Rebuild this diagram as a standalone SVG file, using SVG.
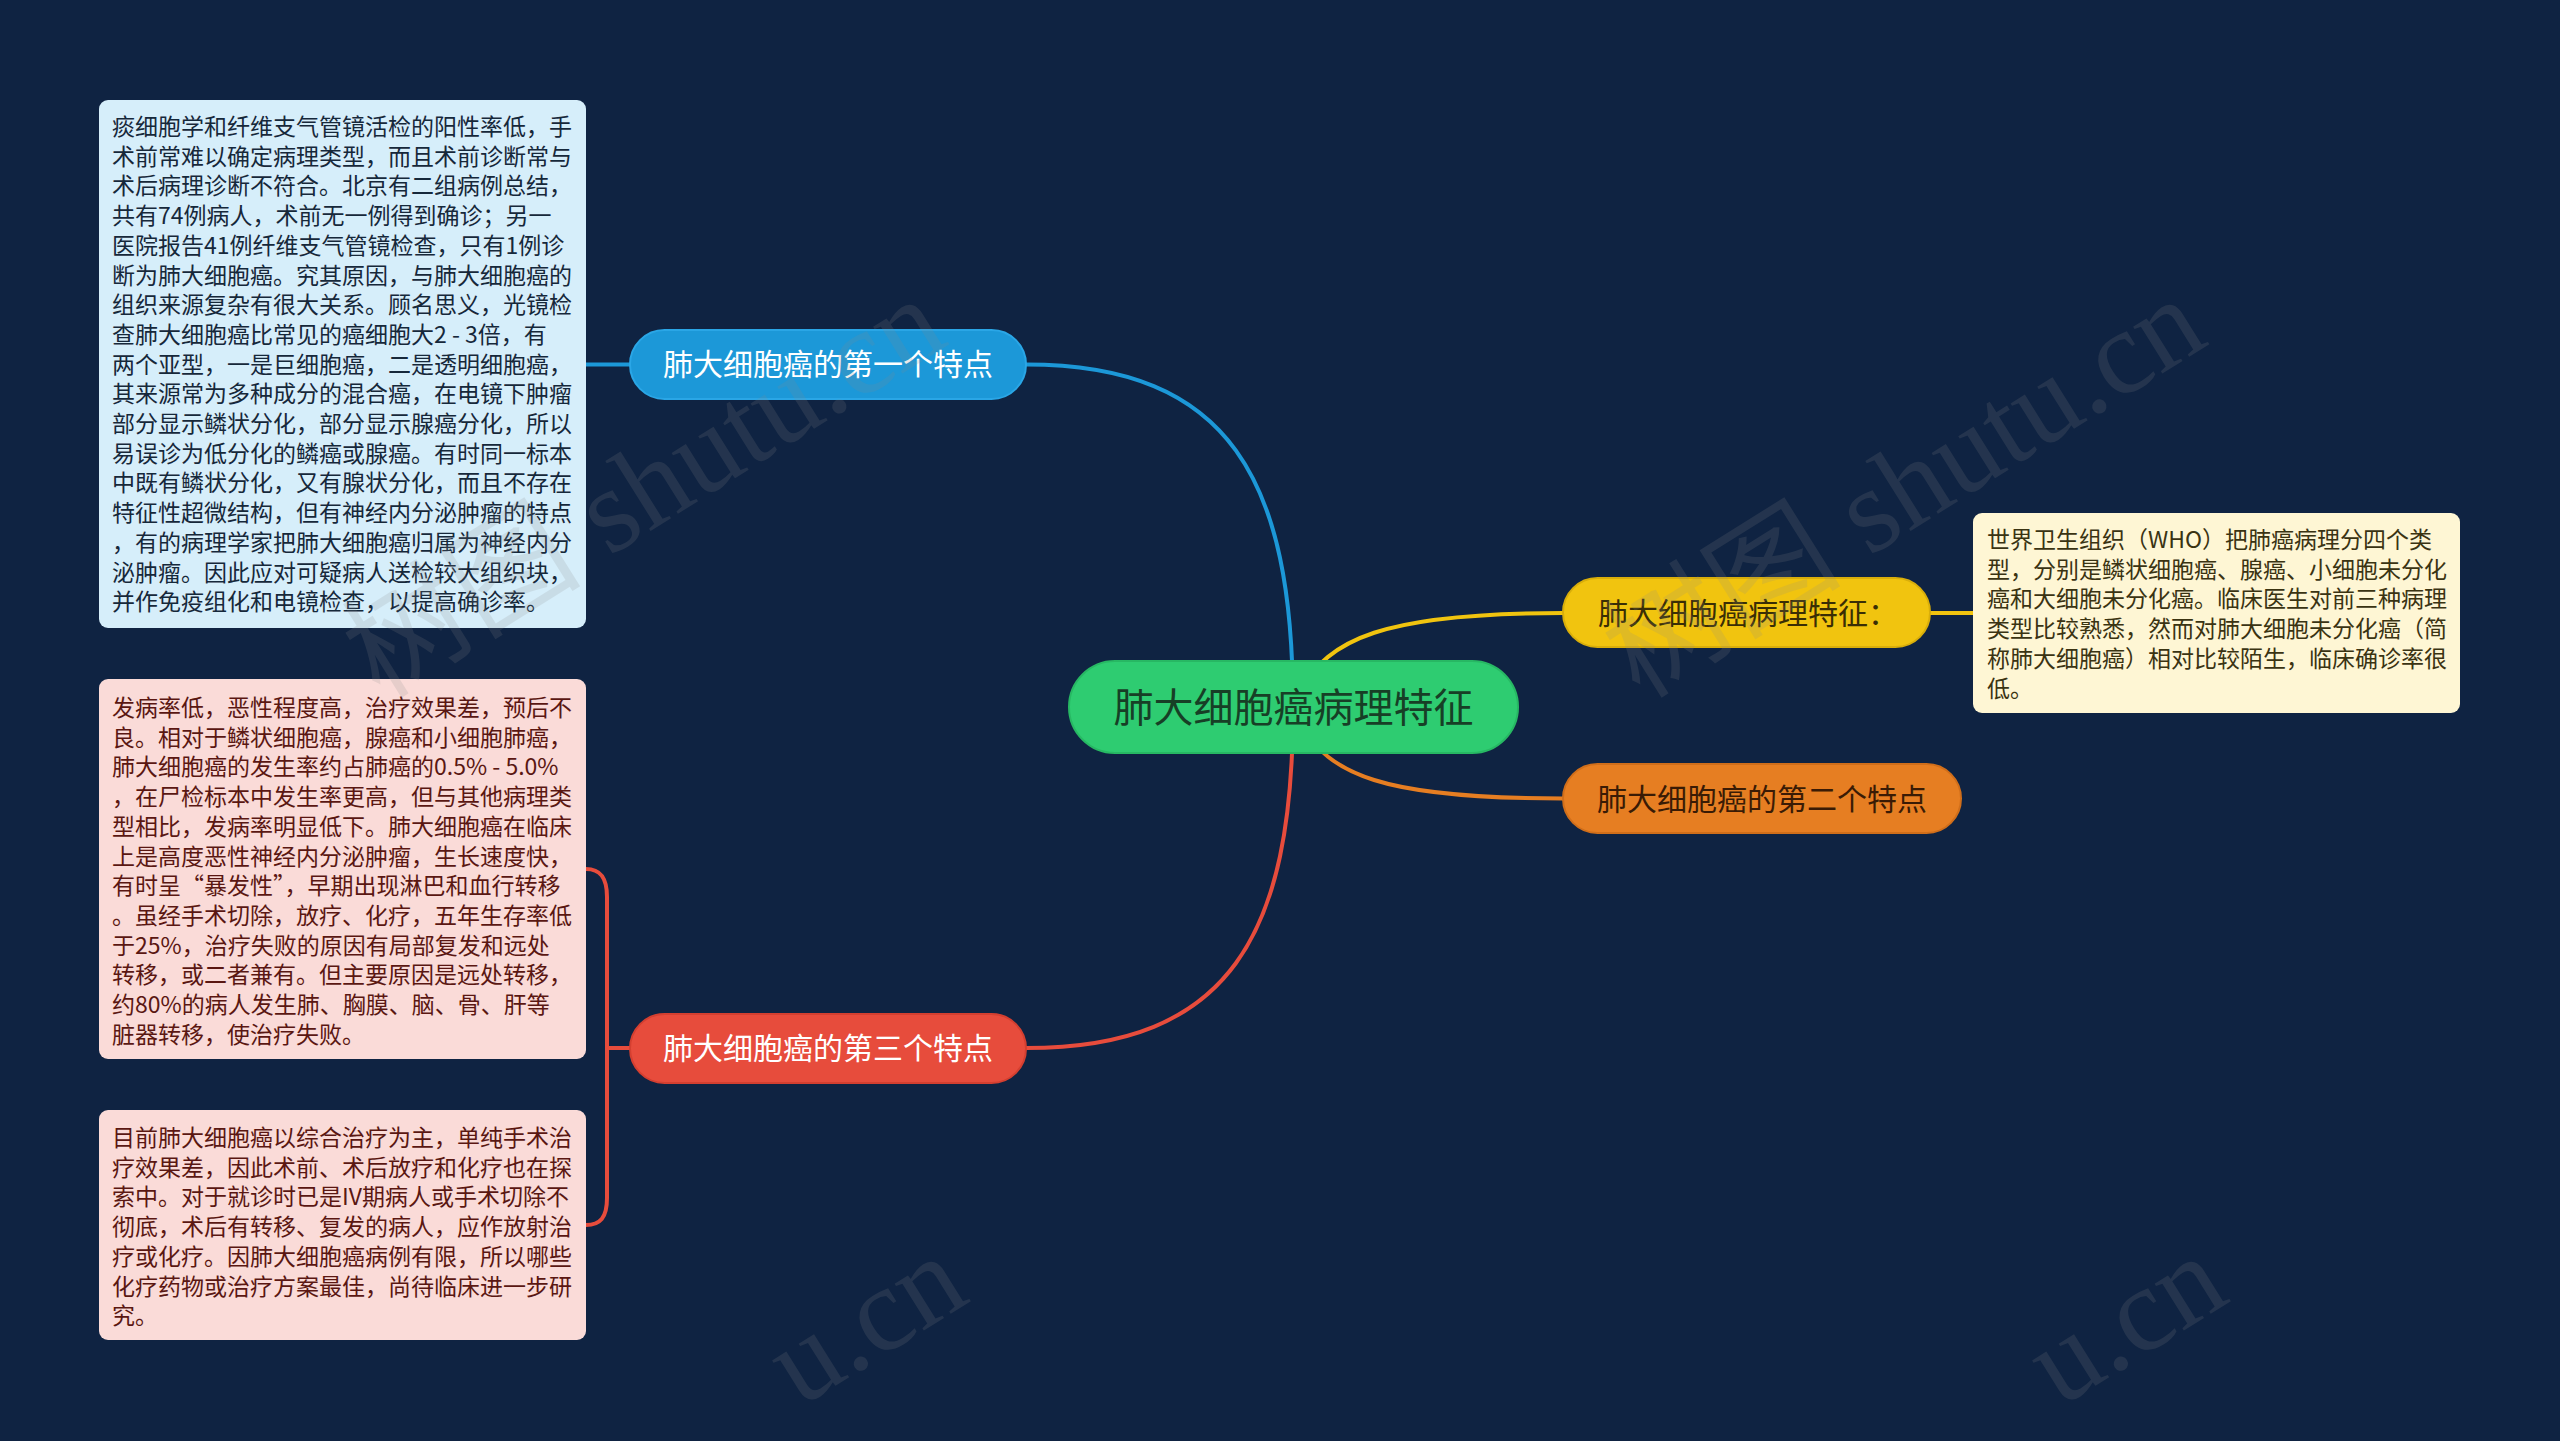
<svg xmlns="http://www.w3.org/2000/svg" width="2560" height="1441" viewBox="0 0 2560 1441">
<style>
.bg{fill:#0F2342}
.cjk{font-family:"Noto Sans CJK SC","Noto Sans",sans-serif}
.box{font-size:23px}
.nt{font-size:30px}
.ct{font-size:40px}
.wm{font-family:"Liberation Serif","Noto Sans CJK SC",serif;font-size:120px;fill:#8a8a8a;opacity:0.17}
.ln{fill:none;stroke-width:4;stroke-linecap:round}
</style>
<rect class="bg" x="0" y="0" width="2560" height="1441"/>
<g id="connectors">
<path class="ln" stroke="#1C98D8" d="M1026,364.5 C1230,364.5 1293,480 1293,707"/>
<path class="ln" stroke="#1C98D8" stroke-width="3" d="M586,364.5 L630,364.5"/>
<path class="ln" stroke="#F1C40F" d="M1300,690 C1330,640 1380,613 1563,613"/>
<path class="ln" stroke="#F1C40F" stroke-width="3" d="M1930,613 L1973,613"/>
<path class="ln" stroke="#E67E22" d="M1300,724 C1330,774 1380,798.5 1563,798.5"/>
<path class="ln" stroke="#E74C3C" d="M1026,1048 C1230,1048 1293,935 1293,707"/>
<path class="ln" stroke="#E74C3C" stroke-width="3" d="M630,1048 L607,1048"/>
<path class="ln" stroke="#E74C3C" stroke-width="3" d="M586,869 C600,869 607,877 607,897 L607,1198 C607,1218 600,1225 586,1225"/>
</g>
<g id="center">
<rect x="1069" y="661" width="449" height="92" rx="46" fill="#2ECC71" stroke="#27b863" stroke-width="2"/>
<text class="cjk ct" x="1293.5" y="722" text-anchor="middle" fill="#173F26">肺大细胞癌病理特征</text>
</g>
<g id="node-first">
<rect x="630" y="330" width="396" height="69" rx="34.5" fill="#1C98D8" stroke="#2aa6e6" stroke-width="2"/>
<text class="cjk nt" x="828" y="375" text-anchor="middle" fill="#FFFFFF">肺大细胞癌的第一个特点</text>
</g>
<g id="node-pathology">
<rect x="1563" y="578" width="367" height="69" rx="34.5" fill="#F1C40F" stroke="#d9ae0a" stroke-width="2"/>
<text class="cjk nt" x="1598" y="623.5" fill="#3A2E05">肺大细胞癌病理特征：</text>
</g>
<g id="node-second">
<rect x="1563" y="764" width="398" height="69" rx="34.5" fill="#E67E22" stroke="#d06e1a" stroke-width="2"/>
<text class="cjk nt" x="1762" y="809.5" text-anchor="middle" fill="#3A1B05">肺大细胞癌的第二个特点</text>
</g>
<g id="node-third">
<rect x="630" y="1014" width="396" height="69" rx="34.5" fill="#E74C3C" stroke="#d43f30" stroke-width="2"/>
<text class="cjk nt" x="828" y="1059" text-anchor="middle" fill="#FFFFFF">肺大细胞癌的第三个特点</text>
</g>
<g id="box-first">
<rect x="99" y="100" width="487" height="528" rx="9" fill="#D6EEFA"/>
<text class="cjk box" fill="#16283A">
<tspan x="112" y="135">痰细胞学和纤维支气管镜活检的阳性率低，手</tspan>
<tspan x="112" y="164.7">术前常难以确定病理类型，而且术前诊断常与</tspan>
<tspan x="112" y="194.4">术后病理诊断不符合。北京有二组病例总结，</tspan>
<tspan x="112" y="224.1">共有74例病人，术前无一例得到确诊；另一</tspan>
<tspan x="112" y="253.8">医院报告41例纤维支气管镜检查，只有1例诊</tspan>
<tspan x="112" y="283.5">断为肺大细胞癌。究其原因，与肺大细胞癌的</tspan>
<tspan x="112" y="313.2">组织来源复杂有很大关系。顾名思义，光镜检</tspan>
<tspan x="112" y="342.9">查肺大细胞癌比常见的癌细胞大2 - 3倍，有</tspan>
<tspan x="112" y="372.6">两个亚型，一是巨细胞癌，二是透明细胞癌，</tspan>
<tspan x="112" y="402.3">其来源常为多种成分的混合癌，在电镜下肿瘤</tspan>
<tspan x="112" y="432">部分显示鳞状分化，部分显示腺癌分化，所以</tspan>
<tspan x="112" y="461.7">易误诊为低分化的鳞癌或腺癌。有时同一标本</tspan>
<tspan x="112" y="491.4">中既有鳞状分化，又有腺状分化，而且不存在</tspan>
<tspan x="112" y="521.1">特征性超微结构，但有神经内分泌肿瘤的特点</tspan>
<tspan x="112" y="550.8">，有的病理学家把肺大细胞癌归属为神经内分</tspan>
<tspan x="112" y="580.5">泌肿瘤。因此应对可疑病人送检较大组织块，</tspan>
<tspan x="112" y="610.2">并作免疫组化和电镜检查，以提高确诊率。</tspan>
</text>
</g>
<g id="box-pathology">
<rect x="1973" y="513" width="487" height="200" rx="9" fill="#FEF6D4"/>
<text class="cjk box" fill="#3A3312">
<tspan x="1987" y="548">世界卫生组织（WHO）把肺癌病理分四个类</tspan>
<tspan x="1987" y="577.7">型，分别是鳞状细胞癌、腺癌、小细胞未分化</tspan>
<tspan x="1987" y="607.4">癌和大细胞未分化癌。临床医生对前三种病理</tspan>
<tspan x="1987" y="637.1">类型比较熟悉，然而对肺大细胞未分化癌（简</tspan>
<tspan x="1987" y="666.8">称肺大细胞癌）相对比较陌生，临床确诊率很</tspan>
<tspan x="1987" y="696.5">低。</tspan>
</text>
</g>
<g id="box-third-a">
<rect x="99" y="679" width="487" height="380" rx="9" fill="#FADBD8"/>
<text class="cjk box" fill="#5A1712">
<tspan x="112" y="716">发病率低，恶性程度高，治疗效果差，预后不</tspan>
<tspan x="112" y="745.7">良。相对于鳞状细胞癌，腺癌和小细胞肺癌，</tspan>
<tspan x="112" y="775.4">肺大细胞癌的发生率约占肺癌的0.5% - 5.0%</tspan>
<tspan x="112" y="805.1">，在尸检标本中发生率更高，但与其他病理类</tspan>
<tspan x="112" y="834.8">型相比，发病率明显低下。肺大细胞癌在临床</tspan>
<tspan x="112" y="864.5">上是高度恶性神经内分泌肿瘤，生长速度快，</tspan>
<tspan x="112" y="894.2">有时呈“暴发性”，早期出现淋巴和血行转移</tspan>
<tspan x="112" y="923.9">。虽经手术切除，放疗、化疗，五年生存率低</tspan>
<tspan x="112" y="953.6">于25%，治疗失败的原因有局部复发和远处</tspan>
<tspan x="112" y="983.3">转移，或二者兼有。但主要原因是远处转移，</tspan>
<tspan x="112" y="1013">约80%的病人发生肺、胸膜、脑、骨、肝等</tspan>
<tspan x="112" y="1042.7">脏器转移，使治疗失败。</tspan>
</text>
</g>
<g id="box-third-b">
<rect x="99" y="1110" width="487" height="230" rx="9" fill="#FADBD8"/>
<text class="cjk box" fill="#5A1712">
<tspan x="112" y="1146">目前肺大细胞癌以综合治疗为主，单纯手术治</tspan>
<tspan x="112" y="1175.7">疗效果差，因此术前、术后放疗和化疗也在探</tspan>
<tspan x="112" y="1205.4">索中。对于就诊时已是IV期病人或手术切除不</tspan>
<tspan x="112" y="1235.1">彻底，术后有转移、复发的病人，应作放射治</tspan>
<tspan x="112" y="1264.8">疗或化疗。因肺大细胞癌病例有限，所以哪些</tspan>
<tspan x="112" y="1294.5">化疗药物或治疗方案最佳，尚待临床进一步研</tspan>
<tspan x="112" y="1324.2">究。</tspan>
</text>
</g>
<g id="watermarks">
<text class="wm" transform="translate(380,700) rotate(-32)">树图 shutu.cn</text>
<text class="wm" transform="translate(1640,700) rotate(-32)">树图 shutu.cn</text>
<text class="wm" transform="translate(800,1408) rotate(-32)">u.cn</text>
<text class="wm" transform="translate(2060,1408) rotate(-32)">u.cn</text>
</g>
</svg>
